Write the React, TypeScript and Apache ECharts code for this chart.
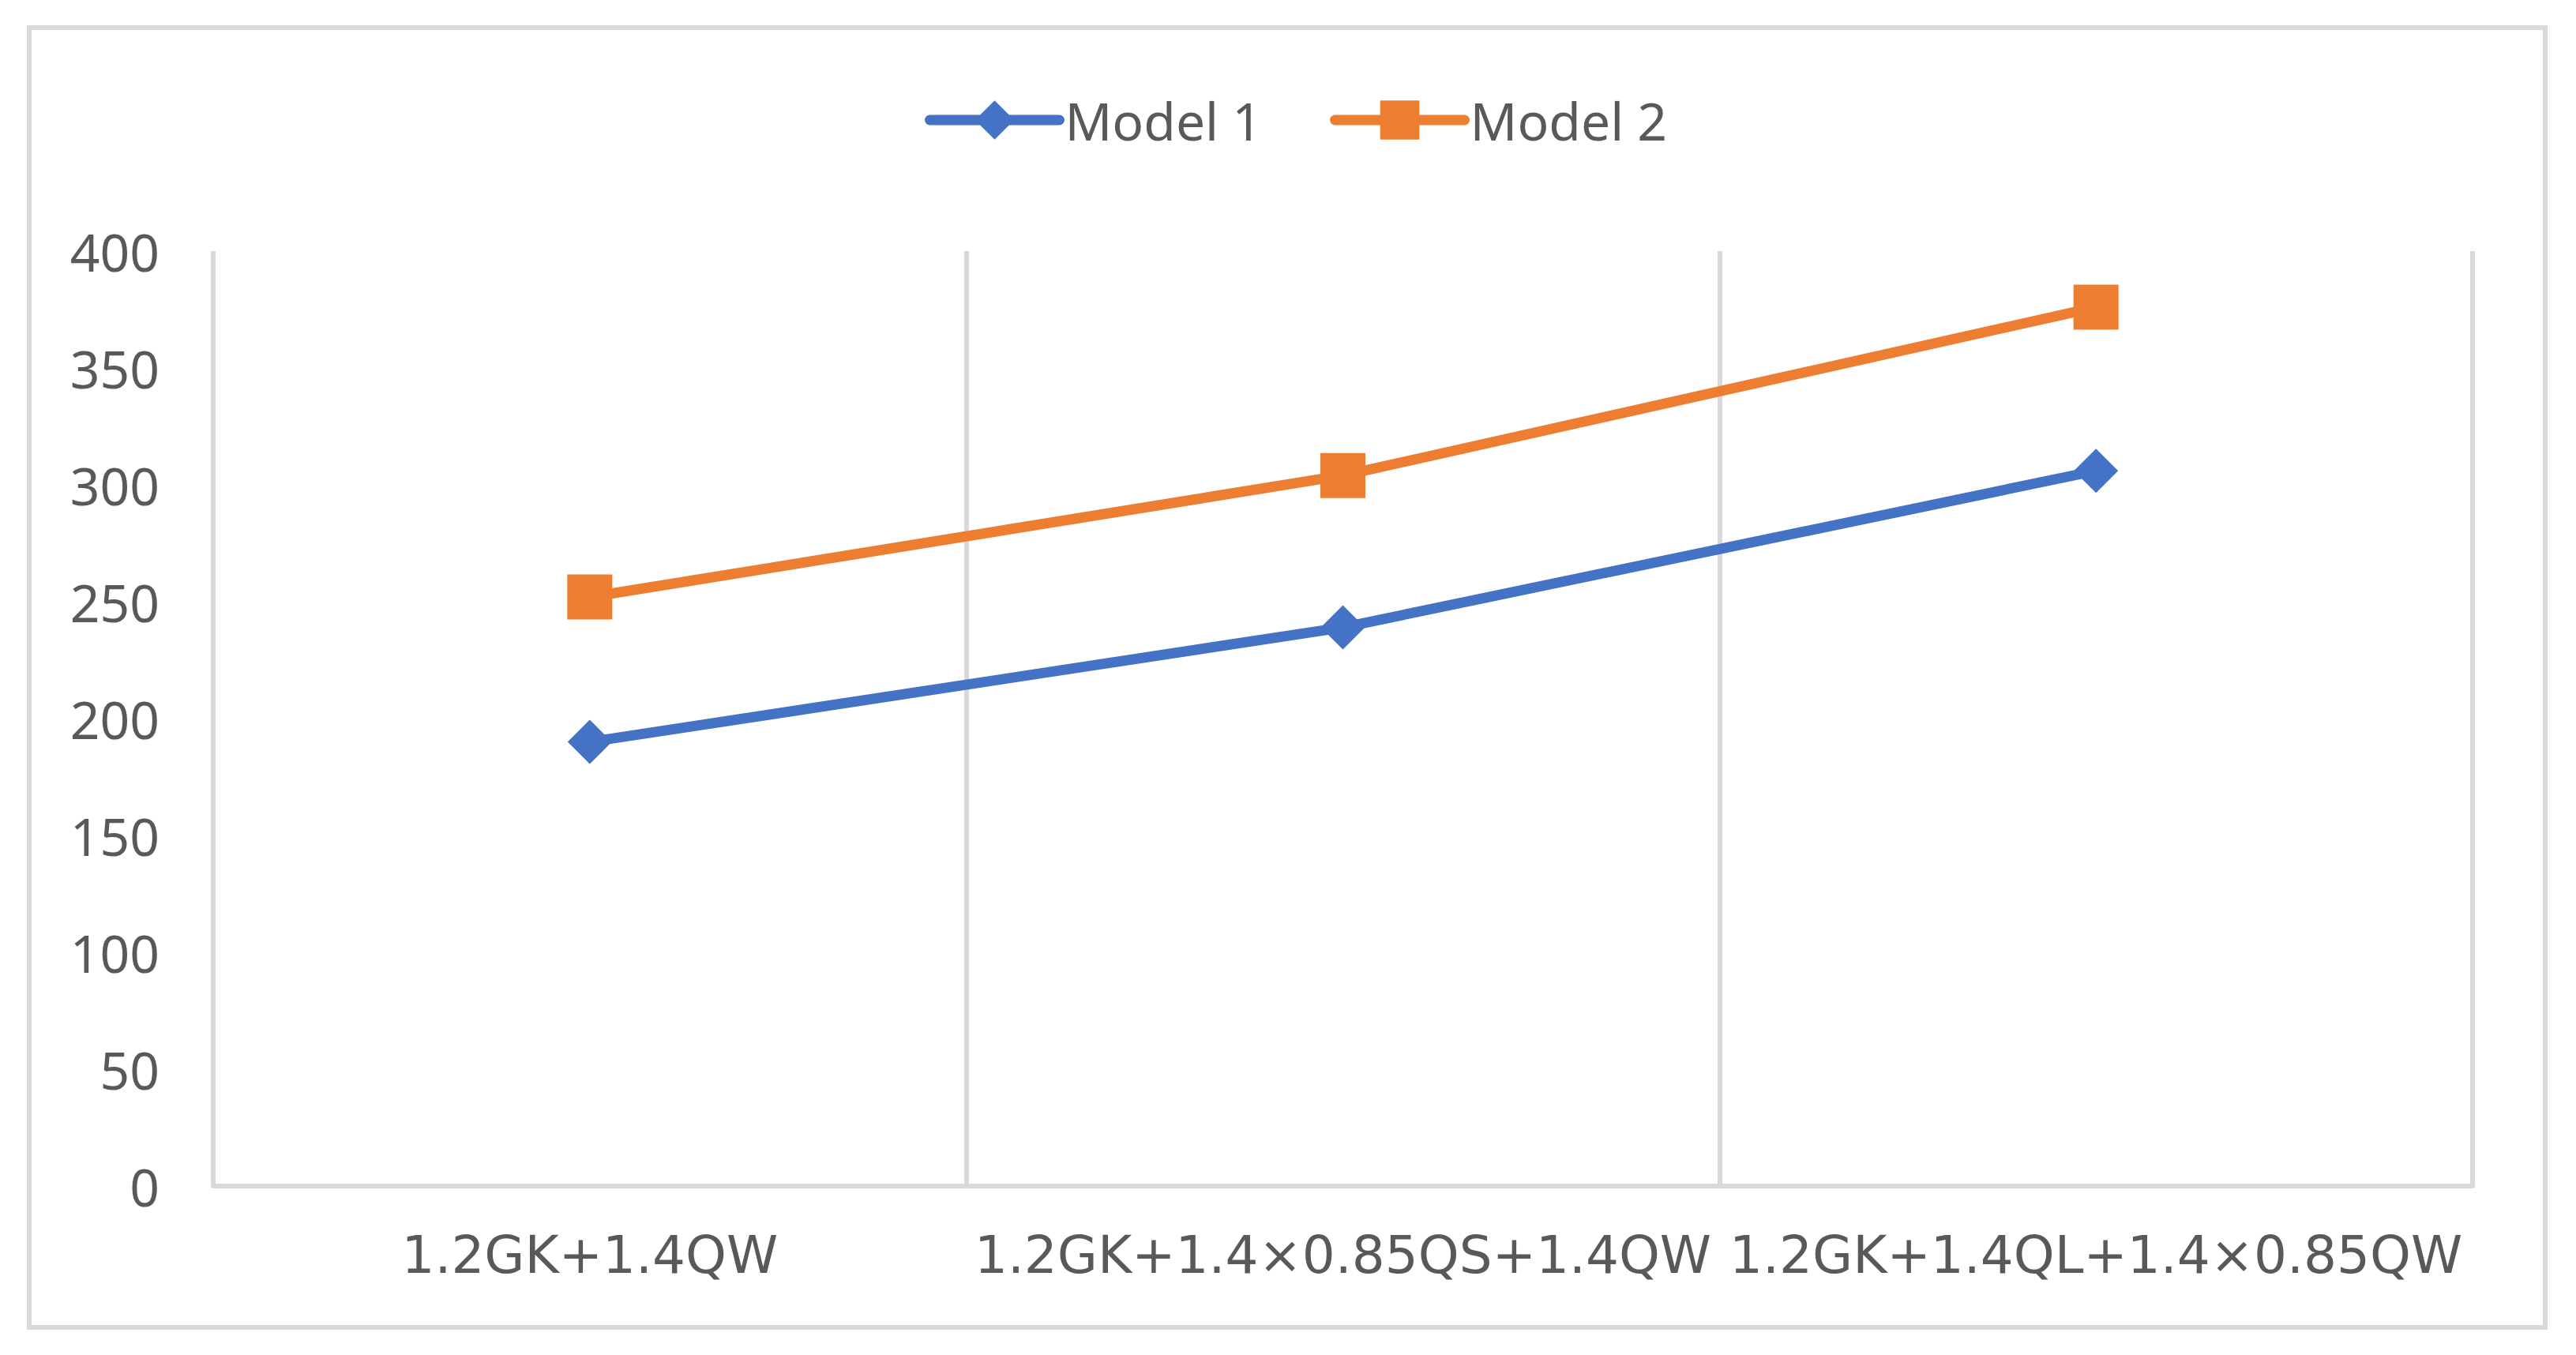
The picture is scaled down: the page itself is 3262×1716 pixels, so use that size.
import React, { useEffect, useRef } from "react";
import * as echarts from "echarts";

const categories = ["1.2GK+1.4QW", "1.2GK+1.4×0.85QS+1.4QW", "1.2GK+1.4QL+1.4×0.85QW"];
const model1 = [190, 239, 306];
const model2 = [252, 304, 376];
const seriesNames = ["Model 1", "Model 2"];

export default function App() {
  const ref = useRef<HTMLDivElement>(null);
  useEffect(() => {
    document.body.style.margin = "0";
    const chart = echarts.init(ref.current!, null, { renderer: "svg" });
    const textColor = "#595959";
    const gridColor = "#d9d9d9";
    chart.setOption({
      animation: false,
      backgroundColor: "#ffffff",
      graphic: [
        {
          type: "rect",
          shape: { x: 37, y: 35, width: 3186, height: 1646 },
          style: { fill: "none", stroke: gridColor, lineWidth: 6 },
          silent: true,
        },
      ],
      legend: {
        top: 114,
        left: 1166,
        itemWidth: 164,
        itemHeight: 62,
        itemGap: 86,
        lineStyle: { width: 13, cap: "round" },
        textStyle: { fontFamily: "Noto Sans", fontSize: 66, color: textColor, padding: [0, 0, 0, 2] },
        data: seriesNames,
      },
      grid: { left: 270, right: 131, top: 318, bottom: 214, containLabel: false },
      xAxis: {
        type: "category",
        data: categories,
        boundaryGap: true,
        axisLine: { show: true, lineStyle: { color: gridColor, width: 6 } },
        axisTick: { show: false },
        splitLine: { show: true, lineStyle: { color: gridColor, width: 6 } },
        axisLabel: {
          interval: 0,
          margin: 54,
          fontFamily: "DejaVu Sans",
          fontSize: 66,
          color: textColor,
        },
      },
      yAxis: {
        type: "value",
        min: 0,
        max: 400,
        interval: 50,
        axisLine: { show: false },
        axisTick: { show: false },
        splitLine: { show: false },
        axisLabel: { margin: 68, fontFamily: "Noto Sans", fontSize: 66, color: textColor, padding: [0, 0, 8, 0] },
      },
      series: [
        {
          name: seriesNames[0],
          type: "line",
          data: model1,
          symbol: "diamond",
          symbolSize: 56,
          lineStyle: { color: "#4472C4", width: 13 },
          itemStyle: { color: "#4472C4" },
        },
        {
          name: seriesNames[1],
          type: "line",
          data: model2,
          symbol: "rect",
          symbolSize: 57,
          lineStyle: { color: "#ED7D31", width: 13 },
          itemStyle: { color: "#ED7D31" },
        },
      ],
    });
    return () => chart.dispose();
  }, []);
  return <div ref={ref} style={{ position: "absolute", left: 0, top: 0, width: 3262, height: 1716 }} />;
}
